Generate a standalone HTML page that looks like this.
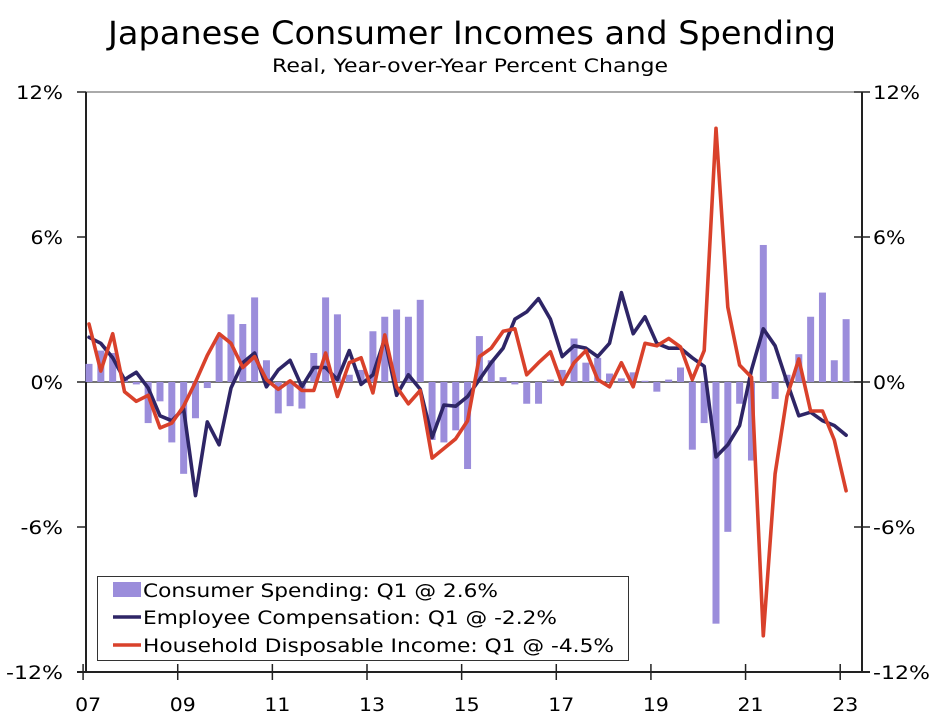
<!DOCTYPE html>
<html><head><meta charset="utf-8"><style>
html,body{margin:0;padding:0;background:#fff;}
svg{display:block;font-family:"DejaVu Sans","Liberation Sans",sans-serif;}
</style></head><body>
<svg id="chart" width="948" height="727" viewBox="0 0 948 727" xmlns="http://www.w3.org/2000/svg">
<text x="472" y="44" font-size="32" text-anchor="middle" textLength="728" lengthAdjust="spacingAndGlyphs">Japanese Consumer Incomes and Spending</text>
<text x="470" y="72" font-size="19" text-anchor="middle" textLength="396" lengthAdjust="spacingAndGlyphs">Real, Year-over-Year Percent Change</text>
<g id="axes"></g>
<g id="bars"></g>
<g id="lines"></g>
<g>
<rect x="97.5" y="576.5" width="531" height="84" fill="#fff" stroke="#333" stroke-width="1"/>
<rect x="113" y="582" width="28" height="15" fill="#9b8ddb"/>
<text x="143" y="597" font-size="19" textLength="355" lengthAdjust="spacingAndGlyphs">Consumer Spending: Q1 @ 2.6%</text>
<line x1="113" y1="617" x2="141" y2="617" stroke="#2e2566" stroke-width="3.5"/>
<text x="143" y="624" font-size="19" textLength="414" lengthAdjust="spacingAndGlyphs">Employee Compensation: Q1 @ -2.2%</text>
<line x1="113" y1="645" x2="141" y2="645" stroke="#d9412b" stroke-width="3.5"/>
<text x="143" y="652" font-size="19" textLength="471" lengthAdjust="spacingAndGlyphs">Household Disposable Income: Q1 @ -4.5%</text>
</g>
</svg>
<script>
const quarters = [];
for (let y = 2007; y <= 2023; y++) for (let q = 1; q <= 4; q++) if (!(y === 2023 && q > 1)) quarters.push(y + 'Q' + q);
const spending = [0.75,1.3,1.2,0.2,-0.1,-1.7,-0.8,-2.5,-3.8,-1.5,-0.25,1.9,2.8,2.4,3.5,0.9,-1.3,-1.0,-1.1,1.2,3.5,2.8,0.3,0.5,2.1,2.7,3.0,2.7,3.4,-2.4,-2.5,-2.0,-3.6,1.9,0.9,0.2,-0.1,-0.9,-0.9,0.1,0.5,1.8,0.8,1.0,0.35,0.15,0.4,0.05,-0.4,0.1,0.6,-2.8,-1.7,-10.0,-6.2,-0.9,-3.25,5.67,-0.7,0.3,1.15,2.7,3.7,0.9,2.6];
const compensation = [1.85,1.6,1.0,0.1,0.4,-0.25,-1.4,-1.6,-1.1,-4.7,-1.65,-2.6,-0.25,0.8,1.2,-0.2,0.5,0.9,-0.2,0.6,0.6,0.1,1.3,-0.1,0.3,1.8,-0.55,0.3,-0.3,-2.3,-0.95,-1.0,-0.6,0.1,0.8,1.4,2.6,2.9,3.45,2.6,1.05,1.5,1.4,1.05,1.6,3.7,2.0,2.7,1.6,1.4,1.4,1.0,0.65,-3.1,-2.6,-1.8,0.5,2.2,1.5,0.0,-1.4,-1.25,-1.6,-1.8,-2.2];
const income = [2.4,0.45,2.0,-0.4,-0.8,-0.55,-1.9,-1.7,-1.0,0.0,1.1,2.0,1.6,0.6,1.05,0.1,-0.3,0.05,-0.35,-0.35,1.2,-0.6,0.8,1.0,-0.45,1.95,-0.2,-0.9,-0.35,-3.15,-2.75,-2.35,-1.6,1.05,1.4,2.1,2.2,0.3,0.8,1.25,-0.1,0.8,1.3,0.1,-0.2,0.8,-0.2,1.6,1.5,1.8,1.45,0.1,1.3,10.5,3.1,0.7,0.2,-10.5,-3.8,-0.6,0.95,-1.2,-1.2,-2.4,-4.5];
const yTicks = [12,6,0,-6,-12];
const yTickLabels = ['12%','6%','0%','-6%','-12%'];
const xTickLabels = ['07','09','11','13','15','17','19','21','23'];

const NS = 'http://www.w3.org/2000/svg';
const L = 86, R = 862, T = 92, B = 672, STEP = 11.83, X0 = 89;
function yScale(v){ return 382 - v * (B - T) / 24; }
function xScale(i){ return X0 + i * STEP; }
function labelWidth(s){ let w = 0; for (const c of s) w += (c === '%') ? 18 : (c === '-' ? 10 : 14.5); return w; }
function mk(tag, attrs, parent){ const e = document.createElementNS(NS, tag); for (const k in attrs) e.setAttribute(k, attrs[k]); parent.appendChild(e); return e; }

const axes = document.getElementById('axes');
const bars = document.getElementById('bars');
const lines = document.getElementById('lines');

spending.forEach((v, i) => {
  const y0 = yScale(0), y1 = yScale(v);
  const r = mk('rect', {x: xScale(i) - 3.5, y: Math.min(y0, y1), width: 7, height: Math.max(0.5, Math.abs(y1 - y0)), fill: '#9b8ddb'}, bars);
  
  
});

let e;
e = mk('line', {x1: L, y1: T, x2: R, y2: T, stroke: '#555', 'stroke-width': 1}, axes);
 
e = mk('line', {x1: L, y1: yScale(0), x2: R, y2: yScale(0), stroke: '#222', 'stroke-width': 1.2}, axes);
 
e = mk('line', {x1: L, y1: T, x2: L, y2: B, stroke: '#222', 'stroke-width': 2}, axes);
 
e = mk('line', {x1: R, y1: T, x2: R, y2: B, stroke: '#222', 'stroke-width': 2}, axes);
 
e = mk('line', {x1: 77, y1: B, x2: R + 8, y2: B, stroke: '#222', 'stroke-width': 2}, axes);
 

yTicks.forEach((v, k) => {
  const y = yScale(v);
  let t = mk('line', {x1: 77, y1: y, x2: L, y2: y, stroke: '#222', 'stroke-width': 1.5}, axes);
   
  t = mk('line', {x1: R - 8, y1: y, x2: R + 8, y2: y, stroke: '#222', 'stroke-width': 1.5}, axes);
   
  const lw = labelWidth(yTickLabels[k]);
  let tx = mk('text', {x: 63, y: y + 7, 'font-size': 19, 'text-anchor': 'end', textLength: lw, lengthAdjust: 'spacingAndGlyphs'}, axes);
  tx.textContent = yTickLabels[k];
   
  tx = mk('text', {x: 873, y: y + 7, 'font-size': 19, textLength: lw, lengthAdjust: 'spacingAndGlyphs'}, axes);
  tx.textContent = yTickLabels[k];
   
});

xTickLabels.forEach((lab, k) => {
  const x = xScale(k * 8) - STEP / 2;
  let t = mk('line', {x1: x, y1: B - 8, x2: x, y2: B + 8, stroke: '#222', 'stroke-width': 1.5}, axes);
   
  let tx = mk('text', {x: x + 5, y: 711, 'font-size': 19, 'text-anchor': 'middle', textLength: 26, lengthAdjust: 'spacingAndGlyphs'}, axes);
  tx.textContent = lab;
   
});

function drawLine(arr, color, name){
  const d = arr.map((v, i) => (i ? 'L' : 'M') + xScale(i).toFixed(1) + ' ' + yScale(v).toFixed(1)).join(' ');
  const p = mk('path', {d: d, fill: 'none', stroke: color, 'stroke-width': 3.6, 'stroke-linejoin': 'round', 'stroke-linecap': 'round'}, lines);
  
  
}
drawLine(compensation, '#2e2566', 'employee-compensation-line');
drawLine(income, '#d9412b', 'household-income-line');
</script>
</body></html>
